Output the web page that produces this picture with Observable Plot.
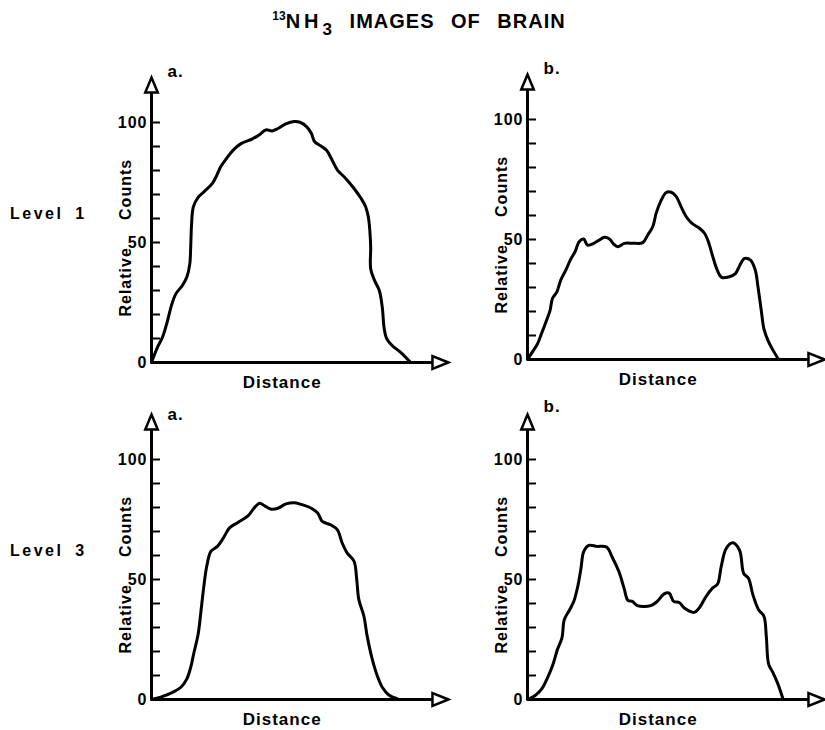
<!DOCTYPE html>
<html>
<head>
<meta charset="utf-8">
<script src="https://cdn.jsdelivr.net/npm/d3@7"></script>
<script src="https://cdn.jsdelivr.net/npm/@observablehq/plot@0.6"></script>
<style>
  body { margin: 0; background: #fff; }
  #fig { position: relative; width: 825px; height: 730px; overflow: hidden;
         font-family: "Liberation Sans", Arial, sans-serif; font-weight: bold; color: #000; }
  #title { position: absolute; left: 0; width: 838px; top: 9px; text-align: center;
           font-size: 20px; line-height: 24px; letter-spacing: 1px; word-spacing: 10px; white-space: nowrap; }
  .sup { font-size: 12px; position: relative; top: -8px; letter-spacing: 0; }
  .sub { font-size: 17px; position: relative; top: 7px; }
  .nh { letter-spacing: 4px; }
  .row { position: absolute; left: 10px; font-size: 16px; line-height: 20px; letter-spacing: 2.5px; word-spacing: 5px; white-space: nowrap; }
  .panel { position: absolute; width: 380px; height: 345px; }
  .panel svg { max-width: none !important; }
</style>
</head>
<body>
<div id="fig">
  <div id="title"><span class="sup">13</span><span class="nh">NH</span><span class="sub">3</span> IMAGES OF BRAIN</div>
</div>
<script>
// ---- data (Distance in % of axis length, Relative Counts in %) ----
const level1aDistance = [0, 2.0, 3.7, 5.4, 6.7, 8.2, 10.4, 11.9, 12.9, 13.2, 13.5, 14.1, 15.7, 17.9, 20.5, 22.0, 23.3, 25.3, 27.6, 30.0, 34.0, 36.2, 38.5, 40.7, 42.6, 45.2, 48.0, 50.2, 52.2, 53.8, 54.9, 57.0, 59.0, 60.5, 62.6, 65.4, 68.2, 70.6, 72.1, 73.0, 73.5, 73.8, 73.8, 75.1, 76.7, 77.7, 78.3, 79.1, 81.1, 83.9, 86.7, 87.2];
const level1aCounts   = [0, 6.3, 10.5, 17.4, 23.7, 28.6, 32.1, 35.6, 41.1, 48.1, 57.9, 64.9, 68.8, 71.4, 74.6, 78.1, 81.6, 85.1, 88.6, 91.1, 93.2, 94.8, 96.9, 96.5, 97.5, 99.4, 100.4, 100.0, 98.3, 95.5, 92.1, 90.2, 88.3, 85.1, 80.2, 76.7, 72.5, 68.3, 64.9, 60.7, 55.1, 48.1, 39.1, 34.2, 30.0, 23.0, 14.6, 10.2, 7.0, 4.2, 0.7, 0];

const level1bDistance = [0, 2.0, 3.4, 4.7, 6.2, 7.6, 8.4, 9.9, 11.2, 12.9, 14.4, 16.0, 17.4, 18.9, 20.2, 22.3, 24.2, 25.9, 27.6, 29.0, 30.4, 32.6, 36.0, 38.8, 40.5, 42.2, 43.3, 44.8, 46.7, 48.4, 50.1, 51.7, 53.4, 55.3, 57.9, 59.6, 60.9, 62.4, 63.9, 65.4, 67.7, 70.0, 71.5, 73.1, 75.1, 76.7, 77.6, 78.7, 79.6, 81.0, 82.7, 84.4];
const level1bCounts   = [0, 3.8, 6.6, 10.7, 15.6, 20.5, 25.4, 28.2, 33.1, 37.2, 41.4, 44.9, 49.1, 50.2, 47.7, 48.4, 49.8, 50.9, 50.2, 48.1, 47.0, 48.4, 48.4, 48.7, 51.9, 55.4, 60.9, 65.8, 69.6, 69.7, 67.9, 63.7, 59.6, 56.8, 54.7, 52.6, 49.1, 42.8, 37.2, 34.2, 34.4, 35.8, 39.3, 42.1, 41.4, 37.2, 30.3, 20.5, 12.8, 7.9, 3.8, 0.3];

const level3aDistance = [0, 3.1, 7.1, 9.9, 11.9, 13.2, 14.3, 15.7, 16.6, 17.5, 18.6, 20.0, 22.2, 24.2, 26.2, 29.1, 32.5, 34.5, 36.4, 38.1, 40.4, 42.6, 45.3, 48.2, 50.9, 53.8, 56.0, 57.5, 60.3, 62.6, 64.2, 65.9, 68.2, 69.1, 69.8, 71.5, 72.6, 74.3, 76.0, 77.7, 79.9, 82.7];
const level3aCounts   = [0, 1.0, 3.0, 5.1, 8.6, 13.4, 19.6, 27.2, 36.2, 45.9, 55.5, 61.7, 63.8, 67.3, 71.4, 73.8, 76.5, 79.7, 81.8, 80.7, 79.3, 79.7, 81.5, 82.0, 81.1, 79.7, 77.6, 74.2, 72.8, 70.7, 65.2, 61.0, 57.6, 50.0, 41.7, 34.8, 26.5, 16.9, 9.9, 5.1, 1.9, 0.3];

const level3bDistance = [0, 2.6, 4.8, 6.8, 8.6, 10.1, 11.6, 12.4, 14.2, 15.6, 16.9, 18.0, 18.9, 20.6, 23.4, 26.6, 28.5, 30.8, 32.5, 33.8, 35.3, 37.0, 41.5, 43.7, 46.0, 47.7, 49.2, 51.1, 52.8, 56.1, 57.8, 60.1, 62.3, 64.0, 65.2, 66.9, 69.1, 71.4, 72.8, 74.4, 75.9, 77.8, 79.6, 80.4, 81.2, 82.6, 84.3, 86.0];
const level3bCounts   = [0, 1.7, 4.4, 9.2, 14.7, 20.9, 25.7, 33.3, 37.4, 40.9, 47.0, 54.6, 61.5, 64.2, 63.8, 63.5, 59.4, 53.2, 46.4, 41.3, 40.9, 39.1, 39.1, 40.9, 44.0, 44.3, 40.9, 40.4, 38.1, 36.3, 38.1, 42.9, 46.4, 48.1, 55.3, 62.9, 65.3, 62.2, 52.5, 50.5, 43.6, 37.4, 34.7, 26.4, 14.7, 11.3, 6.5, 0.3];

const yTickValues = [10, 20, 30, 40, 50, 60, 70, 80, 90, 100];
const yTickLabels = [0, 50, 100];
const rowLabels = ["Level 1", "Level 3"];
const panelLetters = ["a.", "b.", "a.", "b."];
const yAxisLabel = "Relative\u00a0\u00a0\u00a0\u00a0\u00a0Counts";
const xAxisLabel = "Distance";

// axis extents (data units)
const yArrowTip = 118.7, yArrowBase = 112.5, xArrowBase = 94.6;

// ---- arrow head symbols (hollow triangles) ----
const upArrow = { draw(ctx) { ctx.moveTo(0, -15); ctx.lineTo(6.25, 0); ctx.lineTo(-6.25, 0); ctx.closePath(); } };
const rightArrow = { draw(ctx) { ctx.moveTo(16, 0); ctx.lineTo(0, -6.5); ctx.lineTo(0, 6.5); ctx.closePath(); } };

const panels = [
  { dist: level1aDistance, counts: level1aCounts, letter: panelLetters[0], left: 91,  top: 52,  letterDy: -6 },
  { dist: level1bDistance, counts: level1bCounts, letter: panelLetters[1], left: 467, top: 49,  letterDy: -6 },
  { dist: level3aDistance, counts: level3aCounts, letter: panelLetters[2], left: 91,  top: 389, letterDy: 0 },
  { dist: level3bDistance, counts: level3bCounts, letter: panelLetters[3], left: 467, top: 389, letterDy: -8 }
];

const fig = document.getElementById("fig");

rowLabels.forEach((t, i) => {
  const d = document.createElement("div");
  d.className = "row";
  d.style.top = (i === 0 ? 204 : 541) + "px";
  d.textContent = t;
  fig.appendChild(d);
});

panels.forEach(p => {
  const data = p.dist.map((x, i) => ({ x, y: p.counts[i] }));
  const chart = Plot.plot({
    width: 380,
    height: 345,
    margin: 0,
    style: { background: "transparent", overflow: "visible", maxWidth: "none", fontFamily: "'Liberation Sans', Arial, sans-serif", fontWeight: "bold", letterSpacing: "1px" },
    x: { domain: [0, 100], range: [60, 357], axis: null },
    y: { domain: [0, 100], range: [310, 70], axis: null },
    marks: [
      Plot.ruleY(yTickValues, { x1: 0, x2: 0, insetRight: -9, stroke: "black", strokeWidth: 2 }),
      Plot.ruleX([0], { y1: 0, y2: yArrowBase, stroke: "black", strokeWidth: 3 }),
      Plot.ruleY([0], { x1: 0, x2: xArrowBase, stroke: "black", strokeWidth: 3 }),
      Plot.line(data, { x: "x", y: "y", curve: "catmull-rom", stroke: "black", strokeWidth: 3, strokeLinejoin: "round" }),
      Plot.dot([{ x: 0, y: yArrowBase }], { x: "x", y: "y", symbol: upArrow, r: 5, fill: "white", stroke: "black", strokeWidth: 2.5 }),
      Plot.dot([{ x: xArrowBase, y: 0 }], { x: "x", y: "y", symbol: rightArrow, r: 5, fill: "white", stroke: "black", strokeWidth: 2.5 }),
      Plot.text(yTickLabels, { x: 0, y: d => d, text: d => String(d), textAnchor: "end", dx: -4, fontSize: 16, fill: "black" }),
      Plot.text([yAxisLabel], { x: 0, y: 52, text: d => d, rotate: -90, dx: -26, fontSize: 16, fill: "black" }),
      Plot.text([xAxisLabel], { x: 44, y: 0, text: d => d, dy: 20, fontSize: 17, fill: "black" }),
      Plot.text([p.letter], { x: 0, y: yArrowTip, text: d => d, textAnchor: "start", dx: 16, dy: p.letterDy, fontSize: 17, fill: "black" })
    ]
  });
  const wrap = document.createElement("div");
  wrap.className = "panel";
  wrap.style.left = p.left + "px";
  wrap.style.top = p.top + "px";
  wrap.appendChild(chart);
  fig.appendChild(wrap);
});
</script>
</body>
</html>
